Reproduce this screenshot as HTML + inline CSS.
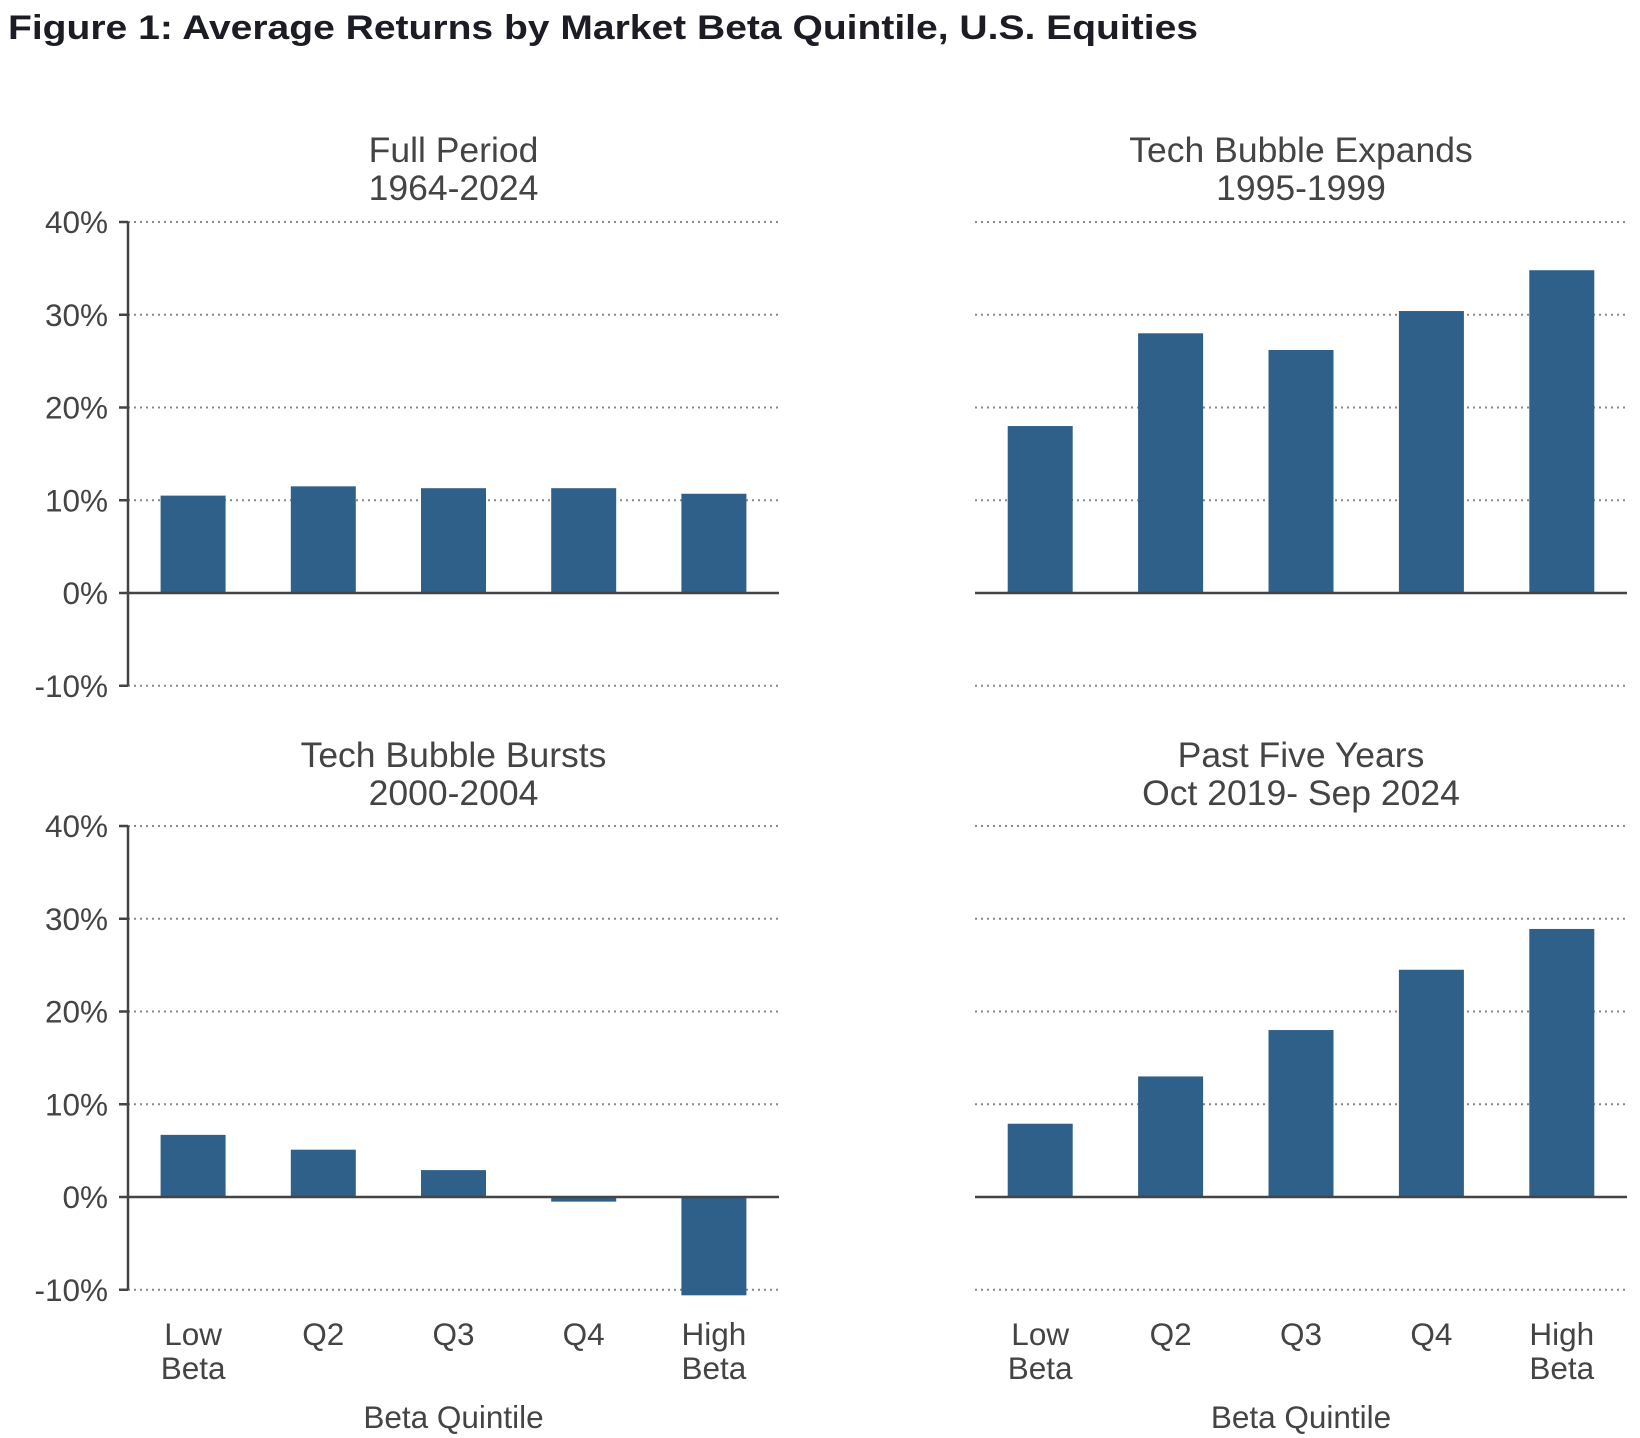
<!DOCTYPE html>
<html><head><meta charset="utf-8"><style>
body{margin:0;background:#fff;}
svg{display:block;font-family:"Liberation Sans",sans-serif;}
</style></head><body>
<svg id="fig" width="1640" height="1438" viewBox="0 0 1640 1438">
<text x="8" y="39" font-size="34" font-weight="bold" fill="#1c1c24" textLength="1190" lengthAdjust="spacingAndGlyphs">Figure 1: Average Returns by Market Beta Quintile, U.S. Equities</text>
</svg>
<script>
const categories1 = ["Low|Beta","Q2","Q3","Q4","High|Beta"];
const fullPeriod = [10.5, 11.5, 11.3, 11.3, 10.7];
const techExpands = [18.0, 28.0, 26.2, 30.4, 34.8];
const techBursts = [6.7, 5.1, 2.9, -0.5, -10.6];
const pastFive = [7.9, 13.0, 18.0, 24.5, 28.9];
const tickValues = [40, 30, 20, 10, 0, -10];
const tickLabels = ["40%","30%","20%","10%","0%","-10%"];

const NS = "http://www.w3.org/2000/svg";
const svg = document.getElementById("fig");
function mk(tag, attrs, parent){
  const e = document.createElementNS(NS, tag);
  for (const k in attrs) e.setAttribute(k, attrs[k]);
  (parent||svg).appendChild(e);
  return e;
}
const panels = [
  {name:"full-period", t1:"Full Period", t2:"1964-2024", vals:fullPeriod, x0:128, x1:779, yTop:222, yZero:593, titleY:150, leftAxis:true, xLabels:false},
  {name:"tech-bubble-expands", t1:"Tech Bubble Expands", t2:"1995-1999", vals:techExpands, x0:975, x1:1627, yTop:222, yZero:593, titleY:150, leftAxis:false, xLabels:false},
  {name:"tech-bubble-bursts", t1:"Tech Bubble Bursts", t2:"2000-2004", vals:techBursts, x0:128, x1:779, yTop:826, yZero:1197, titleY:755, leftAxis:true, xLabels:true},
  {name:"past-five-years", t1:"Past Five Years", t2:"Oct 2019- Sep 2024", vals:pastFive, x0:975, x1:1627, yTop:826, yZero:1197, titleY:755, leftAxis:false, xLabels:true}
];
panels.forEach(p => {
  const g = mk("g", {});
  
  
  const per = (p.yZero - p.yTop) / 40;
  const y = v => p.yZero - v * per;
  const band = (p.x1 - p.x0) / categories1.length;
  const xc = i => p.x0 + band * (i + 0.5);
  const bw = 65;
  const t = mk("text", {x:(p.x0+p.x1)/2, y:p.titleY+12, "font-size":35.5, fill:"#444", "text-anchor":"middle"}, g);
  t.textContent = p.t1;
  
  
  const t2 = mk("text", {x:(p.x0+p.x1)/2, y:p.titleY+50, "font-size":35.5, fill:"#444", "text-anchor":"middle"}, g);
  t2.textContent = p.t2;
  
  
  tickValues.forEach((v, i) => {
    if (v !== 0) {
      const gl = mk("line", {x1:p.x0, x2:p.x1, y1:y(v), y2:y(v), stroke:"#888", "stroke-width":2, "stroke-dasharray":"2 4"}, g);
      
      
    }
    if (p.leftAxis) {
      mk("line", {x1:p.x0-9, x2:p.x0, y1:y(v), y2:y(v), stroke:"#444", "stroke-width":2.5}, g);
      const tl = mk("text", {x:p.x0-20, y:y(v)+11, "font-size":31.5, fill:"#444", "text-anchor":"end"}, g);
      tl.textContent = tickLabels[i];
      
      
    }
  });
  p.vals.forEach((v, i) => {
    const top = Math.min(y(v), y(0)), h = Math.abs(y(v) - y(0));
    const b = mk("rect", {x:xc(i)-bw/2, y:top, width:bw, height:h, fill:"#2e6089"}, g);
    
    
  });
  const zl = mk("line", {x1:p.x0, x2:p.x1, y1:y(0), y2:y(0), stroke:"#444", "stroke-width":2.5}, g);
  
  
  if (p.leftAxis) {
    const ax = mk("line", {x1:p.x0, x2:p.x0, y1:y(40), y2:y(-10), stroke:"#444", "stroke-width":2.5}, g);
    
    
  }
  if (p.xLabels) {
    categories1.forEach((c, i) => {
      c.split('|').forEach((line, j) => {
        const cl = mk("text", {x:xc(i), y:1345 + j*34, "font-size":31.5, fill:"#444", "text-anchor":"middle"}, g);
        cl.textContent = line;
        
        
      });
    });
    const xt = mk("text", {x:(p.x0+p.x1)/2, y:1428, "font-size":31.5, fill:"#444", "text-anchor":"middle"}, g);
    xt.textContent = "Beta Quintile";
    
    
  }
});
</script>
</body></html>
